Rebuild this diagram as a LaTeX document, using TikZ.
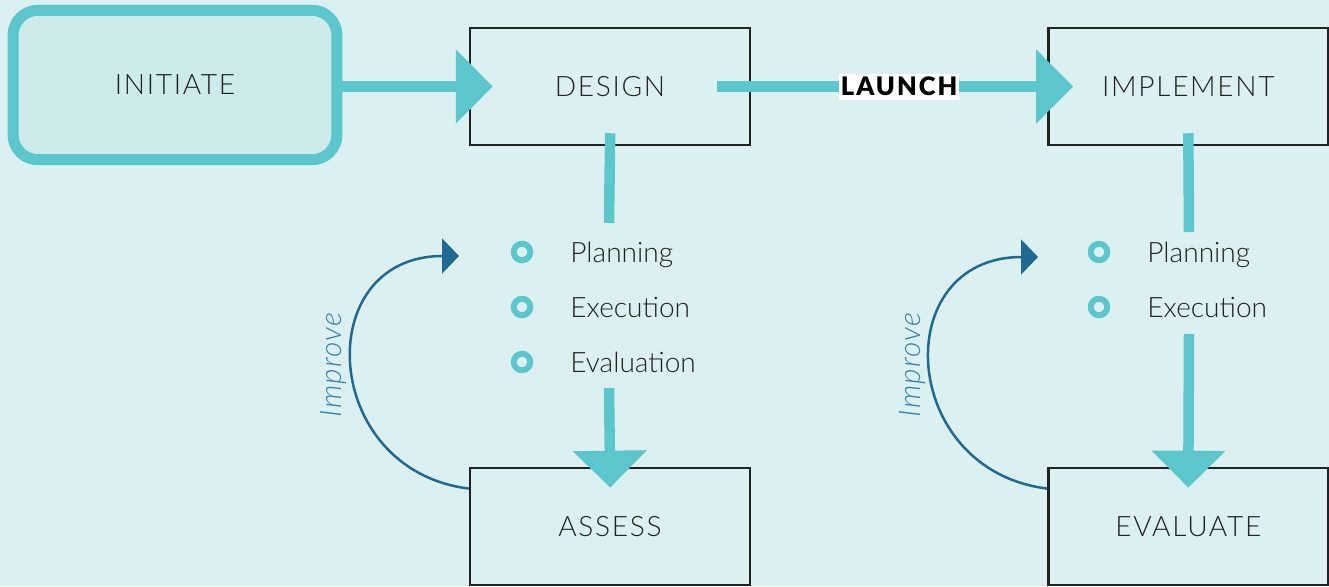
\documentclass[tikz,border=0pt]{standalone}
\usepackage{fontspec}
\IfFontExistsTF{Lato Light}{%
	\setmainfont{Lato Light}[ItalicFont={Lato Light Italic}, BoldFont={Lato Black}]
	\newfontfamily\capsfont[LetterSpace=6]{Lato Light}
	\newfontfamily\tagfont[LetterSpace=8]{Lato Black}
}{%
	\setmainfont{Lato}
	\newfontfamily\capsfont[LetterSpace=6]{Lato}
	\newfontfamily\tagfont[LetterSpace=8]{Lato}
}
\usetikzlibrary{arrows.meta, positioning}

\definecolor{paper}{HTML}{DDF0F1}
\definecolor{flowteal}{HTML}{5BC6CB}
\definecolor{startfill}{HTML}{CDEBEA}
\definecolor{loopblue}{HTML}{1E6A93}
\definecolor{labelblue}{HTML}{3483AB}
\definecolor{ink}{HTML}{222222}

\begin{document}
\begin{tikzpicture}[
	x=0.02cm, y=-0.02cm,
	every node/.style={text=ink},
	stage/.style={draw=ink, line width=0.05cm, minimum width=5.6cm, minimum height=2.34cm, inner sep=0pt, font=\capsfont\fontsize{16}{16}\selectfont},
	start/.style={stage, draw=flowteal, fill=startfill, line width=0.22cm, rounded corners=0.5cm, minimum width=6.48cm, minimum height=2.99cm},
	flow/.style={draw=flowteal, line width=0.21cm},
	flowtip/.style={flow, -{Triangle[length=0.74cm, width=1.44cm]}},
	ring/.style={circle, draw=flowteal, line width=0.12cm, minimum size=0.33cm, inner sep=0pt},
	stepitem/.style={anchor=base west, inner sep=0pt, font=\fontsize{16}{16}\selectfont},
	tag/.style={fill=white, inner xsep=1pt, inner ysep=2pt, text=black, font=\tagfont\fontsize{14.5}{14.5}\selectfont},
	improveloop/.style={draw=loopblue, line width=0.05cm, -{Triangle[length=0.34cm, width=0.7cm]}},
	looplabel/.style={rotate=90, text=labelblue, font=\addfontfeature{LetterSpace=4}\itshape\fontsize{17}{17}\selectfont}
]
\useasboundingbox (0,0) rectangle (1329,586);
\fill[paper] (0,0) rectangle (1329,586);

% stages
\node[start] (initiate) at (175,85) {INITIATE};
\node[stage] (design) at (610,86.5) {DESIGN};
\node[stage, right=5.92cm of design] (implement) {IMPLEMENT};
\node[stage, below=6.41cm of design] (assess) {ASSESS};
\node[stage, below=6.41cm of implement] (evaluate) {EVALUATE};

% bullet lists
\foreach \y/\name/\txt in {252/plan/Planning, 307/exec/Execution, 362/eval/Evaluation} {
	\node[ring] (d\name dot) at (522,\y) {};
	\node[stepitem] (d\name) at (570,\y+10) {\txt};
}
\foreach \y/\name/\txt in {252/plan/Planning, 307/exec/Execution} {
	\node[ring] (i\name dot) at (1099,\y) {};
	\node[stepitem] (i\name) at (1147,\y+10) {\txt};
}

\coordinate (dfoot) at (609,223);
\coordinate (dhead) at (609,388);
\coordinate (ifoot) at (1189,232);
\coordinate (ihead) at (1189,334);
\coordinate (dloop) at (459,256);
\coordinate (iloop) at (1038,257);

% main flow
\draw[flowtip, shorten >=-0.48cm] (design.west -| initiate.east) -- (design.west);
\draw[flowtip, shorten <=-0.68cm, shorten >=-0.52cm] (design.east) -- node[tag] {LAUNCH} (implement.west);
\draw[flow, shorten <=-0.26cm] (design.south) -- (dfoot);
\draw[flowtip, shorten >=-0.42cm] (dhead) -- (assess.north);
\draw[flow, shorten <=-0.26cm] (implement.south) -- (ifoot);
\draw[flowtip, shorten >=-0.42cm] (ihead) -- (evaluate.north);

% improve loops
\draw[improveloop] (assess.165) .. controls (320,470) and (310,256) .. (dloop);
\draw[improveloop] (evaluate.165) .. controls (898,470) and (888,257) .. (iloop);
\node[looplabel] (dimprove) at (334,365) {Improve};
\node[looplabel] (iimprove) at (913,365) {Improve};
\end{tikzpicture}
\end{document}
